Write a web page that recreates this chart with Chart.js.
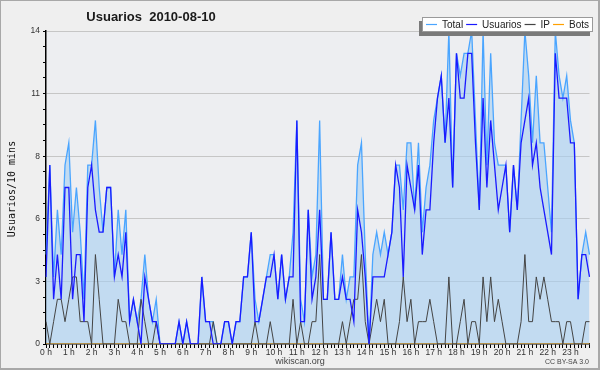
<!DOCTYPE html>
<html><head><meta charset="utf-8">
<script src="https://cdn.jsdelivr.net/npm/chart.js@4.4.0/dist/chart.umd.min.js"></script>
<style>html,body{margin:0;padding:0;background:#efefef}canvas{display:block}</style>
</head><body>
<canvas id="c" width="600" height="370"></canvas>
<script>
const chartTitle = 'Usuarios  2010-08-10';
const yTitle = 'Usuarios/10 mins';
const siteText = 'wikiscan.org';
const licenseText = 'CC BY-SA 3.0';
const hourTicks = ['0 h','1 h','2 h','3 h','4 h','5 h','6 h','7 h','8 h','9 h','10 h','11 h','12 h','13 h','14 h','15 h','16 h','17 h','18 h','19 h','20 h','21 h','22 h','23 h'];
const minuteSteps = ['00','10','20','30','40','50'];
const yTickLabels = ['0','3','6','8','11','14'];
const seriesNames = ['Total','Usuarios','IP','Bots'];

const total = [4,8,3,6,4,8,9,5,7,5, 2,8,8,10,7,5,7,7,3,6, 4,6,1,2,1,2,4,2,1,2, 0,0,0,0,0,1,0,1,0,0,
  0,3,1,1,1,0,0,1,1,0, 1,1,3,3,5,2,1,2,3,4, 4,2,4,2,3,5,10,2,1,6, 3,4,10,2,2,5,2,2,4,2,
  3,3,8,9,4,0,4,5,4,5, 4,5,8,8,6,9,9,6,9,5, 7,8,10,11,12,9,14,7,13,12, 13,13,14,10,6,14,8,13,9,8,
  8,8,5,8,6,10,14,12,9,12, 9,9,7,5,14,12,11,12,10,9, 2,4,5,4];
const usuarios = [3,8,2,4,2,7,7,2,4,4, 1,7,8,6,5,5,7,7,3,4, 3,5,1,2,1,0,3,2,1,1, 0,0,0,0,0,1,0,1,0,0,
  0,3,1,1,0,0,0,1,1,0, 1,1,3,3,5,1,1,2,3,3, 4,2,4,2,3,3,10,1,1,6, 2,3,6,2,2,5,2,2,3,2,
  2,1,6,5,3,0,3,3,3,3, 4,5,8,7,3,8,7,6,8,4, 6,6,9,11,12,9,11,7,13,11, 11,13,13,9,6,11,7,10,8,6,
  7,8,5,8,6,9,10,11,8,9, 7,6,5,4,13,11,11,11,9,9, 2,4,4,3];
const ip = [1,0,1,2,2,1,2,3,3,1, 1,1,0,4,2,0,0,0,0,2, 1,1,0,0,0,2,1,0,0,1, 0,0,0,0,0,0,0,0,0,0,
  0,0,0,0,1,0,0,0,0,0, 0,0,0,0,0,1,0,0,0,1, 0,0,0,0,0,2,0,1,0,0, 1,1,4,0,0,0,0,0,1,0,
  1,2,2,4,1,0,1,2,1,2, 0,0,0,1,3,1,2,0,1,1, 1,2,1,0,0,0,3,0,0,1, 2,0,1,1,0,3,1,3,1,2,
  1,0,0,0,0,1,4,1,1,3, 2,3,2,1,1,1,0,1,1,0, 0,0,1,1];
const bots = [0,0,0,0,0,0,0,0,0,0, 0,0,0,0,0,0,0,0,0,0, 0,0,0,0,0,0,0,0,0,0, 0,0,0,0,0,0,0,0,0,0,
  0,0,0,0,0,0,0,0,0,0, 0,0,0,0,0,0,0,0,0,0, 0,0,0,0,0,0,0,0,0,0, 0,0,0,0,0,0,0,0,0,0,
  0,0,0,0,0,0,0,0,0,0, 0,0,0,0,0,0,0,0,0,0, 0,0,0,0,0,0,0,0,0,0, 0,0,0,0,0,0,0,0,0,0,
  0,0,0,0,0,0,0,0,0,0, 0,0,0,0,0,0,0,0,0,0, 0,0,0,0];

const slotLabels = [];
hourTicks.forEach(h => minuteSteps.forEach(m => slotLabels.push(h.replace(' h','') + ':' + m)));

const colTotal = '#4aa5ff', colUsu = '#1a1aff', colIp = '#444444', colBots = '#ffa000';
const FONT = "'Liberation Sans', Arial, sans-serif";

const decor = {
  id: 'decor',
  beforeDraw(chart) {
    const c = chart.ctx, a = chart.chartArea;
    c.save();
    c.fillStyle = '#efefef';
    c.fillRect(0, 0, chart.width, chart.height);
    c.fillStyle = '#edeef1';
    c.fillRect(a.left, a.top, a.right - a.left, a.bottom - a.top);
    c.restore();
  },
  afterDraw(chart) {
    const c = chart.ctx;
    c.save();
    // frame
    c.strokeStyle = '#a8a8a8';
    c.lineWidth = 2;
    c.strokeRect(0, 0, 599, 369);
    // title
    c.fillStyle = '#1a1a1a';
    c.font = "bold 13px " + FONT;
    c.textAlign = 'center';
    c.textBaseline = 'alphabetic';
    c.fillText(chartTitle, 151, 21);
    // y title
    c.save();
    c.translate(12, 189);
    c.rotate(-Math.PI / 2);
    c.font = "10px 'DejaVu Sans Mono', monospace";
    c.fillStyle = '#111';
    c.textAlign = 'center';
    c.textBaseline = 'middle';
    c.fillText(yTitle, 0, 0);
    c.restore();
    // footer
    c.font = "9px " + FONT;
    c.fillStyle = '#444';
    c.textAlign = 'center';
    c.fillText(siteText, 300, 364);
    c.font = "7px " + FONT;
    c.textAlign = 'right';
    c.fillText(licenseText, 589, 364);
    // legend
    const bx = 422, by = 17, bw = 171, bh = 15;
    c.fillStyle = '#7a7a7a';
    c.fillRect(bx - 3, by + 4, bw, bh);
    c.fillStyle = '#ffffff';
    c.fillRect(bx, by, bw, bh);
    c.strokeStyle = '#9a9a9a';
    c.lineWidth = 1;
    c.strokeRect(bx + 0.5, by + 0.5, bw - 1, bh - 1);
    c.font = "10px " + FONT;
    c.textAlign = 'left';
    c.textBaseline = 'alphabetic';
    let x = 426;
    chart.data.datasets.forEach(ds => {
      c.strokeStyle = ds.borderColor;
      c.lineWidth = 1.2;
      c.beginPath();
      c.moveTo(x, 24.5);
      c.lineTo(x + 11, 24.5);
      c.stroke();
      x += 16;
      c.fillStyle = '#222';
      c.fillText(ds.label, x, 28);
      x += c.measureText(ds.label).width + 3;
    });
    c.restore();
  }
};

new Chart(document.getElementById('c'), {
  type: 'line',
  data: {
    labels: slotLabels,
    datasets: [
      { label: seriesNames[0], data: total, borderColor: colTotal, backgroundColor: 'rgba(168,207,240,0.62)', fill: 'origin', borderWidth: 1.3, order: 4 },
      { label: seriesNames[1], data: usuarios, borderColor: colUsu, borderWidth: 1.3, fill: false, order: 1 },
      { label: seriesNames[2], data: ip, borderColor: colIp, borderWidth: 1, fill: false, order: 2 },
      { label: seriesNames[3], data: bots, borderColor: colBots, borderWidth: 1, fill: false, order: 3 }
    ]
  },
  options: {
    responsive: false,
    animation: false,
    devicePixelRatio: 1,
    layout: { padding: { top: 31, right: 10.5, bottom: 0, left: 0 } },
    elements: { point: { radius: 0, hoverRadius: 0 }, line: { tension: 0 } },
    plugins: { legend: { display: false }, tooltip: { enabled: false }, title: { display: false } },
    scales: {
      x: {
        type: 'category',
        offset: false,
        z: 1,
        afterFit(s) { s.height = 26; },
        border: { display: true, color: '#000', width: 1.5 },
        grid: { display: true, drawOnChartArea: false, drawTicks: true, tickLength: 4, color: '#000', tickColor: '#000', tickWidth: 1 },
        ticks: {
          autoSkip: false, maxRotation: 0, minRotation: 0, padding: 0,
          color: '#333', font: { family: FONT, size: 8.5 },
          callback: (v, i) => (i % 6 === 0 ? hourTicks[i / 6] : '')
        }
      },
      y: {
        min: 0, max: 14,
        afterFit(s) { s.width = 46; },
        border: { display: true, color: '#000', width: 1.5 },
        grid: {
          drawTicks: true, tickLength: 3,
          color: ctx => (ctx.index % 4 === 0 && ctx.index > 0 ? '#c6c6c6' : 'rgba(0,0,0,0)'),
          tickColor: '#000', lineWidth: 1
        },
        ticks: {
          stepSize: 0.7, padding: 3, autoSkip: false,
          color: '#333', font: { family: FONT, size: 8.5 },
          callback: (v, i) => (i % 4 === 0 ? yTickLabels[i / 4] : '')
        }
      }
    }
  },
  plugins: [decor]
});
</script>
</body></html>
